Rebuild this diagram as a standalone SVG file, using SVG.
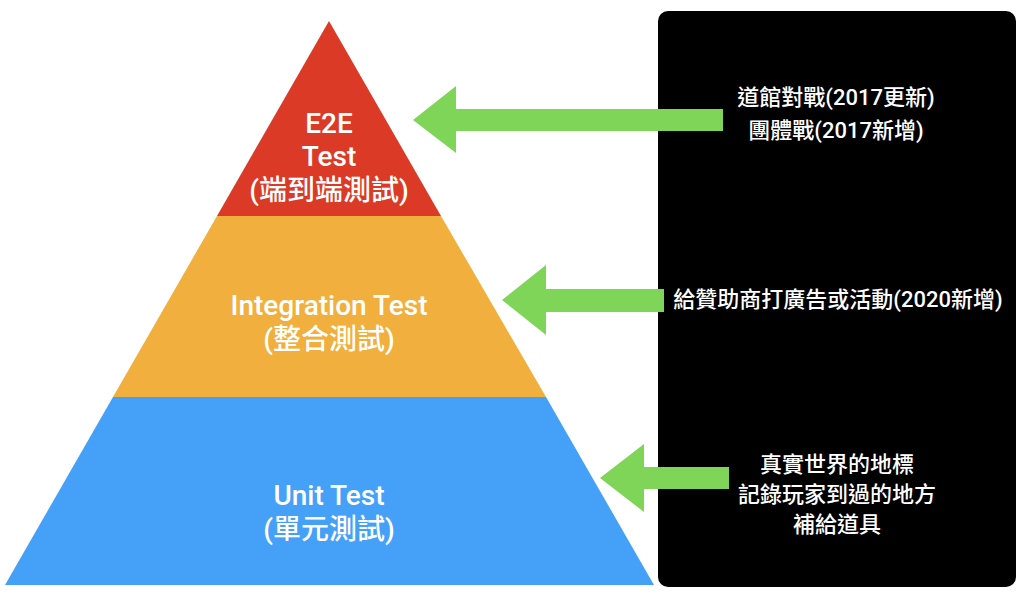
<svg xmlns="http://www.w3.org/2000/svg" width="1024" height="596" viewBox="0 0 1024 596">
  <style>
    .lvl { font-family: Roboto, "Liberation Sans", "Noto Sans CJK TC", sans-serif; font-weight: 500; font-size: 28px; fill: #ffffff; text-anchor: middle; }
    .note { font-family: Roboto, "Liberation Sans", "Noto Sans CJK TC", sans-serif; font-weight: 500; font-size: 22px; fill: #ffffff; text-anchor: middle; }
    .arrow { fill: #7ED557; }
  </style>
  <rect width="1024" height="596" fill="#ffffff"/>
  <g id="panel">
    <rect x="658" y="11" width="358" height="576" rx="10" ry="10" fill="#000000"/>
  </g>
  <g id="e2e">
    <polygon points="329,21 441,216 217,216" fill="#DB3B26"/>
    <text class="lvl" x="329" y="133">E2E</text>
    <text class="lvl" x="329" y="166">Test</text>
    <text class="lvl" x="329" y="200">(端到端測試)</text>
  </g>
  <g id="integration">
    <polygon points="217,216 441,216 546,397 113,397" fill="#F1AF3E"/>
    <text class="lvl" x="329" y="315">Integration Test</text>
    <text class="lvl" x="329" y="349">(整合測試)</text>
  </g>
  <g id="unit">
    <polygon points="113,397 546,397 654,585 5,585" fill="#45A1F7"/>
    <text class="lvl" x="329" y="505">Unit Test</text>
    <text class="lvl" x="329" y="539">(單元測試)</text>
  </g>
  <g id="connectors">
    <polygon class="arrow" points="413,120 456,86 456,109 723,109 723,131 456,131 456,153"/>
    <polygon class="arrow" points="502,300 546,265 546,289 664,289 664,312 546,312 546,335"/>
    <polygon class="arrow" points="600,478 644,444 644,467 729,467 729,489 644,489 644,512"/>
  </g>
  <g id="note-e2e">
    <text class="note" x="836" y="105">道館對戰(2017更新)</text>
    <text class="note" x="836" y="138">團體戰(2017新增)</text>
  </g>
  <g id="note-integration">
    <text class="note" x="838" y="307">給贊助商打廣告或活動(2020新增)</text>
  </g>
  <g id="note-unit">
    <text class="note" x="837" y="472">真實世界的地標</text>
    <text class="note" x="837" y="502">記錄玩家到過的地方</text>
    <text class="note" x="837" y="532">補給道具</text>
  </g>
</svg>
